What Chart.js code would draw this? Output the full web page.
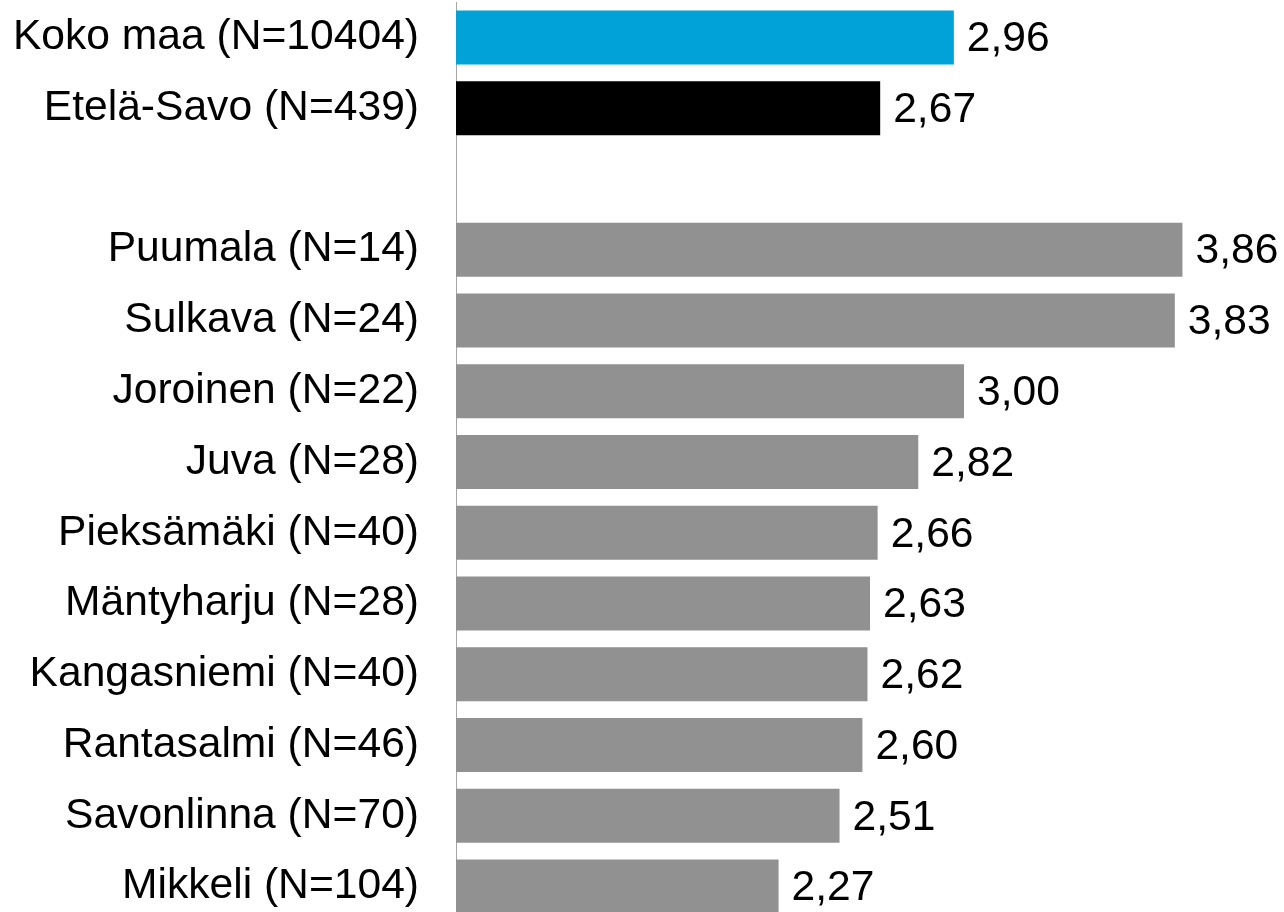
<!DOCTYPE html>
<html>
<head>
<meta charset="utf-8">
<script src="https://cdn.jsdelivr.net/npm/chart.js@4"></script>
<style>
  html, body { margin: 0; padding: 0; background: #fff; overflow: hidden; }
  #wrap { width: 1284px; height: 912px; overflow: hidden; }
</style>
</head>
<body>
<div id="wrap"><canvas id="bar-chart" width="1284" height="922"></canvas></div>
<script>
const labels = [
    'Koko maa (N=10404)',
    'Etelä-Savo (N=439)',
    '',
    'Puumala (N=14)',
    'Sulkava (N=24)',
    'Joroinen (N=22)',
    'Juva (N=28)',
    'Pieksämäki (N=40)',
    'Mäntyharju (N=28)',
    'Kangasniemi (N=40)',
    'Rantasalmi (N=46)',
    'Savonlinna (N=70)',
    'Mikkeli (N=104)'
];
const values = [2.96, 2.67, null, 3.86, 3.83, 3.00, 2.82, 2.66, 2.63, 2.62, 2.60, 2.51, 2.27];
const colors = ['#00a2d8', '#000000', '#919191', '#919191', '#919191', '#919191', '#919191',
    '#919191', '#919191', '#919191', '#919191', '#919191', '#919191'];

const FONT = 'Liberation Sans, Arial, sans-serif';
const FONT_SIZE = 42.6;

// draws the value next to each bar, with a decimal comma
const valueLabels = {
    id: 'valueLabels',
    afterDatasetsDraw(chart) {
        const ctx = chart.ctx;
        const meta = chart.getDatasetMeta(0);
        ctx.save();
        ctx.font = FONT_SIZE + 'px ' + FONT;
        ctx.fillStyle = '#000';
        ctx.textAlign = 'left';
        ctx.textBaseline = 'middle';
        meta.data.forEach((bar, i) => {
            const v = values[i];
            if (v === null) return;
            ctx.fillText(v.toFixed(2).replace('.', ','), bar.x + 13, bar.y + 2);
        });
        ctx.restore();
    }
};

const ctx = document.getElementById('bar-chart');

const myChart = new Chart(ctx, {
    type: 'bar',
    data: {
        labels: labels,
        datasets: [{
            data: values,
            backgroundColor: colors,
            borderWidth: 0,
            categoryPercentage: 1,
            barPercentage: 0.763
        }]
    },
    options: {
        indexAxis: 'y',
        responsive: false,
        animation: false,
        layout: {
            padding: { top: 2, bottom: 0, right: 66, left: 0 }
        },
        plugins: {
            legend: { display: false },
            tooltip: { enabled: false }
        },
        scales: {
            x: {
                display: false,
                min: 1,
                max: 4
            },
            y: {
                afterFit(scale) {
                    scale.width = 456;
                    scale.paddingTop = 0;
                    scale.paddingBottom = 0;
                },
                grid: { display: false, drawTicks: false },
                border: { display: true, color: '#a6a6a6', width: 1 },
                ticks: {
                    padding: 37,
                    color: '#000',
                    font: { size: FONT_SIZE, family: FONT }
                }
            }
        }
    },
    plugins: [valueLabels]
});
</script>
</body>
</html>
